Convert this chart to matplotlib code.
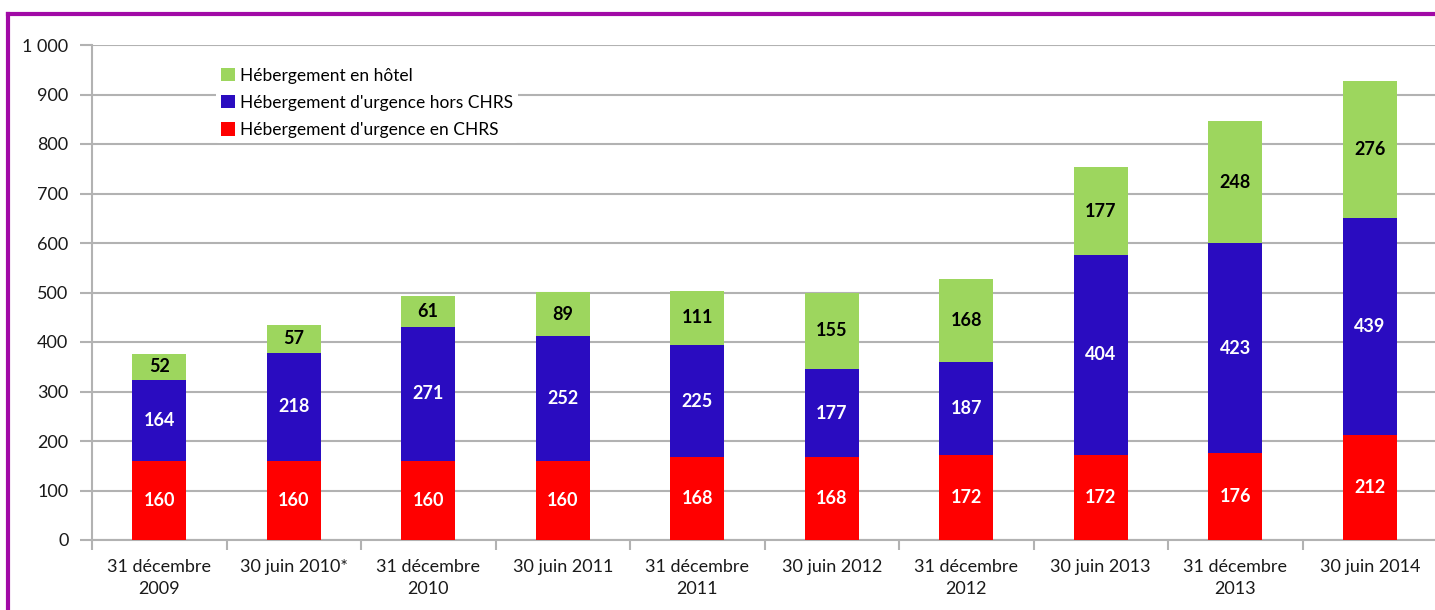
import numpy as np
import matplotlib.pyplot as plt
from matplotlib.lines import Line2D

plt.rcParams['font.family'] = ['Lato', 'DejaVu Sans']

# data
dates = ['31 décembre\n2009', '30 juin 2010*', '31 décembre\n2010', '30 juin 2011',
         '31 décembre\n2011', '30 juin 2012', '31 décembre\n2012', '30 juin 2013',
         '31 décembre\n2013', '30 juin 2014']
chrs = [160, 160, 160, 160, 168, 168, 172, 172, 176, 212]
hors_chrs = [164, 218, 271, 252, 225, 177, 187, 404, 423, 439]
hotel = [52, 57, 61, 89, 111, 155, 168, 177, 248, 276]

col_red = '#ff0000'
col_blue = '#2a0cc0'
col_green = '#9dd65e'
grey = '#b2b2b2'

W, H = 1435, 610
fig = plt.figure(figsize=(W / 100, H / 100), dpi=100)
ax = fig.add_axes([92 / W, 70 / H, 1345 / W, 495 / H])

x = np.arange(len(dates))
bw = 0.40
b1 = ax.bar(x, chrs, bw, color=col_red, zorder=3)
b2 = ax.bar(x, hors_chrs, bw, bottom=chrs, color=col_blue, zorder=3)
bottom3 = np.array(chrs) + np.array(hors_chrs)
b3 = ax.bar(x, hotel, bw, bottom=bottom3, color=col_green, zorder=3)

# labels in the middle of each segment
for i in x:
    ax.text(i, chrs[i] / 2, str(chrs[i]), ha='center', va='center',
            color='white', fontsize=13, fontweight='bold', zorder=4)
    ax.text(i, chrs[i] + hors_chrs[i] / 2, str(hors_chrs[i]), ha='center', va='center',
            color='white', fontsize=13, fontweight='bold', zorder=4)
    ax.text(i, bottom3[i] + hotel[i] / 2, str(hotel[i]), ha='center', va='center',
            color='black', fontsize=13, fontweight='bold', zorder=4)

ax.set_xlim(-0.5, len(dates) - 0.5)
ax.set_ylim(0, 1000)
ax.set_yticks(range(0, 1001, 100))
ax.set_yticklabels(['0', '100', '200', '300', '400', '500', '600', '700', '800', '900', '1 000'])
ax.yaxis.grid(True, color=grey, linewidth=1.5, zorder=0)
ax.set_axisbelow(True)

ax.set_xticks(x)
ax.set_xticklabels(dates, fontsize=13, linespacing=1.45, color='#1a1a1a')
ax.set_xticks(np.arange(-0.5, len(dates), 1), minor=True)
ax.tick_params(axis='x', which='major', length=0, pad=14)
ax.tick_params(axis='x', which='minor', length=7, color=grey, width=1.5)
ax.tick_params(axis='y', length=9, color=grey, width=1.5, labelsize=13, pad=8,
               labelcolor='#1a1a1a')

for s in ['top', 'right']:
    ax.spines[s].set_visible(False)
for s in ['left', 'bottom']:
    ax.spines[s].set_color(grey)
    ax.spines[s].set_linewidth(1.5)

leg = ax.legend([b3, b2, b1],
                ['Hébergement en hôtel', "Hébergement d'urgence hors CHRS",
                 "Hébergement d'urgence en CHRS"],
                loc='upper left', bbox_to_anchor=(0.092, 0.965), fontsize=12.5,
                frameon=True, facecolor='white', edgecolor='none', framealpha=1,
                handlelength=0.8, handleheight=0.8, handletextpad=0.3,
                labelspacing=0.65, borderpad=0.3, borderaxespad=0)
leg.set_zorder(5)

# purple frame of the original page
purple = '#a10aa6'
fig.add_artist(Line2D([8 / W, 1], [1 - 14 / H, 1 - 14 / H], color=purple, linewidth=3))
fig.add_artist(Line2D([8 / W, 8 / W], [0, 1 - 14 / H], color=purple, linewidth=3))

fig.savefig('out.png', dpi=100)
